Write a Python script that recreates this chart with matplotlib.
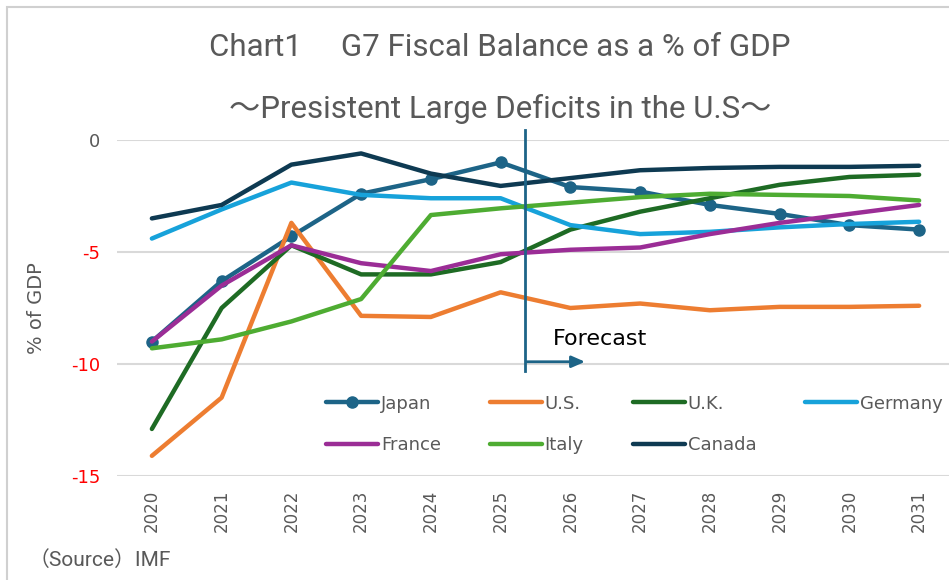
import matplotlib.pyplot as plt
import matplotlib.patches as mpatches

plt.rcParams['font.family'] = ['Roboto', 'Noto Sans CJK JP', 'DejaVu Sans']

years = ["2020", "2021", "2022", "2023", "2024", "2025",
         "2026", "2027", "2028", "2029", "2030", "2031"]

japan = [-9.0, -6.3, -4.3, -2.4, -1.75, -1.0, -2.1, -2.3, -2.9, -3.3, -3.8, -4.0]
us = [-14.1, -11.5, -3.7, -7.85, -7.9, -6.8, -7.5, -7.3, -7.6, -7.45, -7.45, -7.4]
uk = [-12.9, -7.5, -4.7, -6.0, -6.0, -5.45, -4.0, -3.2, -2.6, -2.0, -1.65, -1.55]
germany = [-4.4, -3.1, -1.9, -2.45, -2.6, -2.6, -3.8, -4.2, -4.1, -3.9, -3.75, -3.65]
france = [-9.0, -6.5, -4.7, -5.5, -5.85, -5.1, -4.9, -4.8, -4.2, -3.7, -3.3, -2.9]
italy = [-9.3, -8.9, -8.1, -7.1, -3.35, -3.05, -2.8, -2.55, -2.4, -2.45, -2.5, -2.7]
canada = [-3.5, -2.9, -1.1, -0.6, -1.5, -2.05, -1.7, -1.35, -1.25, -1.2, -1.2, -1.15]

fig = plt.figure(figsize=(9.49, 5.80), dpi=100)
ax = fig.add_axes([117 / 949, 1 - 476 / 580, (954 - 117) / 949, (476 - 140) / 580])

# light frame around the whole chart
fig.patches.append(mpatches.Rectangle((7 / 949, -0.01), 1.0, 1 - 7 / 580 + 0.01,
                                      transform=fig.transFigure, fill=False,
                                      edgecolor="#D0D0D0", linewidth=1.5))

x = list(range(len(years)))
lw = 3.2
l_jp, = ax.plot(x, japan, color="#1D6487", lw=lw, marker="o", ms=8, label="Japan",
                solid_capstyle="round")
l_us, = ax.plot(x, us, color="#ED7D31", lw=lw, label="U.S.", solid_capstyle="round")
l_uk, = ax.plot(x, uk, color="#1E6B24", lw=lw, label="U.K.", solid_capstyle="round")
l_de, = ax.plot(x, germany, color="#17A2DA", lw=lw, label="Germany", solid_capstyle="round")
l_fr, = ax.plot(x, france, color="#9B2D96", lw=lw, label="France", solid_capstyle="round")
l_it, = ax.plot(x, italy, color="#4EAC32", lw=lw, label="Italy", solid_capstyle="round")
l_ca, = ax.plot(x, canada, color="#0E3A52", lw=lw, label="Canada", solid_capstyle="round")

ax.set_xlim(-0.5, 11.5)
ax.set_ylim(-15, 0)
ax.set_yticks([0, -5, -10, -15])
ax.set_yticklabels(["0", "-5", "-10", "-15"], fontsize=13, family="DejaVu Sans")
for t, c in zip(ax.get_yticklabels(), ["#595959", "red", "red", "red"]):
    t.set_color(c)
ax.set_xticks(x)
ax.set_xticklabels(years, rotation=90, fontsize=12, color="#595959", family="DejaVu Sans")
ax.tick_params(length=0, pad=12)
ax.tick_params(axis="x", pad=10)
ax.grid(axis="y", color="#D9D9D9", lw=1.5)
ax.set_axisbelow(True)
for s in ax.spines.values():
    s.set_visible(False)
ax.set_ylabel("% of GDP", fontsize=14, color="#595959", family="DejaVu Sans", labelpad=18)

# forecast marker
fx = 5.35
ax.plot([fx, fx], [0.45, -10.3], color="#1D6487", lw=2, clip_on=False)
ax.annotate("", xy=(6.25, -9.9), xytext=(fx - 0.02, -9.9),
            arrowprops=dict(arrowstyle="-|>,head_length=0.8,head_width=0.35",
                            color="#1D6487", lw=2))
ax.text(5.75, -8.9, "Forecast", fontsize=16, color="black", family="DejaVu Sans",
        va="center", ha="left")

handles = [l_jp, l_fr, l_us, l_it, l_uk, l_ca, l_de]
leg = ax.legend(handles=handles, ncol=4, loc="upper left",
                bbox_to_anchor=(0.23, 0.29), frameon=False, fontsize=13,
                handlelength=2.9, handletextpad=0.15, columnspacing=2.7,
                labelspacing=1.3, labelcolor="#595959")
for t in leg.get_texts():
    t.set_family("DejaVu Sans")

fig.text(0.527, 0.918, "Chart1\u3000 G7 Fiscal Balance as a % of GDP",
         ha="center", va="center", fontsize=22.5, color="#595959")
fig.text(0.527, 0.812, "\uff5ePresistent Large Deficits in the U.S\uff5e",
         ha="center", va="center", fontsize=22.5, color="#595959")
fig.text(0.03, 0.035, "\uff08Source\uff09IMF", ha="left", va="center",
         fontsize=15, color="#595959")

fig.savefig("out.png", dpi=100)
